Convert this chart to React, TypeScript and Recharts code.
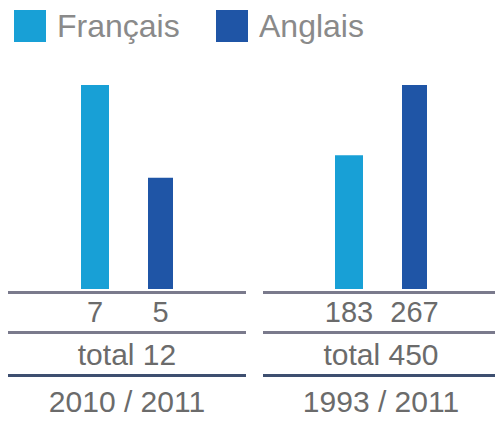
import { BarChart, Bar, XAxis, YAxis, LabelList } from "recharts";

// series
const seriesNames = ["Français", "Anglais"];
const seriesColors = ["#18a0d6", "#1f55a6"];

// one panel per period
const periods = ["2010 / 2011", "1993 / 2011"];
const francais = [7, 183];
const anglais = [5, 267];
const totals = [12, 450];

// each panel has its own scale; the original does not start its bars at zero
const scaleFloor = [2.6, 23];

const FONT = '"Liberation Sans", Arial, sans-serif';
const TEXT = "#6b6b6b";

const panels = [
  { chartLeft: 6, chartWidth: 241, lineLeft: 8, lineRight: 246, center: 127 },
  { chartLeft: 267, chartWidth: 228, lineLeft: 263, lineRight: 495, center: 381 },
];

function Rule({ left, right, top, color }: { left: number; right: number; top: number; color: string }) {
  return <div style={{ position: "absolute", left, top, width: right - left, height: 3, background: color }} />;
}

function Caption({ center, top, text }: { center: number; top: number; text: string }) {
  return (
    <div
      style={{
        position: "absolute",
        left: center - 100,
        top,
        width: 200,
        textAlign: "center",
        fontFamily: FONT,
        fontSize: 30,
        lineHeight: "34px",
        color: TEXT,
      }}
    >
      {text}
    </div>
  );
}

function Panel({ i }: { i: number }) {
  const p = panels[i];
  const data = [{ period: periods[i], fr: francais[i], en: anglais[i] }];
  const labelStyle = { fontFamily: FONT, fontSize: 29 };
  return (
    <>
      <div style={{ position: "absolute", left: p.chartLeft, top: 0 }}>
        <BarChart
          width={p.chartWidth}
          height={330}
          data={data}
          margin={{ top: 85, right: 0, bottom: 41, left: 0 }}
          barGap={39}
        >
          <XAxis dataKey="period" hide />
          <YAxis hide domain={[scaleFloor[i], "dataMax"]} allowDataOverflow />
          <Bar dataKey="fr" name={seriesNames[0]} fill={seriesColors[0]} barSize={28} isAnimationActive={false}>
            <LabelList dataKey="fr" position="bottom" offset={12} fill={TEXT} style={labelStyle} />
          </Bar>
          <Bar dataKey="en" name={seriesNames[1]} fill={seriesColors[1]} barSize={25} isAnimationActive={false}>
            <LabelList dataKey="en" position="bottom" offset={12} fill={TEXT} style={labelStyle} />
          </Bar>
        </BarChart>
      </div>
      <Rule left={p.lineLeft} right={p.lineRight} top={291} color="#7a7a8c" />
      <Rule left={p.lineLeft} right={p.lineRight} top={331} color="#7a7a8c" />
      <Caption center={p.center} top={338} text={`total ${totals[i]}`} />
      <Rule left={p.lineLeft} right={p.lineRight} top={374} color="#3e4f70" />
      <Caption center={p.center} top={385} text={periods[i]} />
    </>
  );
}

export default function App() {
  const legendLeft = [14, 216];
  return (
    <div style={{ position: "absolute", left: 0, top: 0, width: 495, height: 424, background: "#fff", overflow: "hidden" }}>
      {seriesNames.map((name, k) => (
        <div
          key={name}
          style={{ position: "absolute", left: legendLeft[k], top: 10, display: "flex", alignItems: "center", height: 32 }}
        >
          <div style={{ width: 32, height: 32, background: seriesColors[k] }} />
          <span style={{ marginLeft: 11, fontFamily: FONT, fontSize: 32, color: "#8a8a8a", lineHeight: "32px" }}>{name}</span>
        </div>
      ))}
      <Panel i={0} />
      <Panel i={1} />
    </div>
  );
}
